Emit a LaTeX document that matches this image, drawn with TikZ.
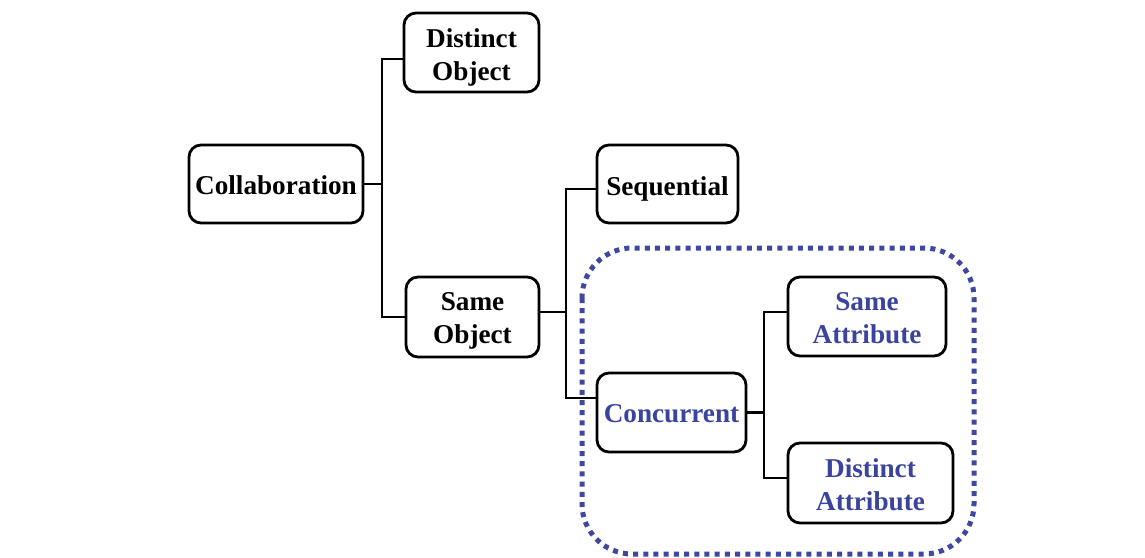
\documentclass[tikz,border=0pt]{standalone}
\usepackage{fontspec}
\setmainfont{Liberation Serif}
\definecolor{dotblue}{HTML}{3D489E}
\definecolor{txtblue}{HTML}{3A449C}
\tikzset{
  box/.style={draw=black, line width=2.8pt, rounded corners=12pt, inner sep=0pt, fill=white},
  txt/.style={inner sep=0pt, align=center, font=\fontsize{27.2}{33}\selectfont\bfseries},
  bluetxt/.style={txt, text=txtblue},
  conn/.style={draw=black, line width=2.8pt},
  groupbox/.style={draw=dotblue, line width=5pt, dash pattern=on 5pt off 5.2pt, rounded corners=50pt}
}
\begin{document}
\begin{tikzpicture}[x=1pt,y=-1pt]
\useasboundingbox (0,0) rectangle (1145,557);
\draw[groupbox] (582,248) rectangle (974,554);
\node[box, minimum width=174pt, minimum height=78pt] (collab) at (276,184) {};
\node[box, minimum width=135pt, minimum height=79pt] (distobj) at (471.5,52.5) {};
\node[box, minimum width=133pt, minimum height=80pt] (sameobj) at (472.5,317) {};
\node[box, minimum width=141pt, minimum height=78pt] (seq) at (667.5,184) {};
\node[box, minimum width=149pt, minimum height=79pt] (conc) at (671.5,412.5) {};
\node[box, minimum width=158pt, minimum height=79pt] (sameattr) at (867,316.5) {};
\node[box, minimum width=165pt, minimum height=80pt] (distattr) at (870.5,483) {};
\node[txt] (tcollab) at ([yshift=-1.5pt]collab.center) {Collaboration};
\node[txt] (tdistobj) at ([yshift=-5pt]distobj.center) {Distinct\\Object};
\node[txt] (tsameobj) at ([yshift=-4pt]sameobj.center) {Same\\Object};
\node[txt] (tseq) at ([yshift=-4.5pt]seq.center) {Sequential};
\node[bluetxt] (tconc) at ([yshift=-1.5pt]conc.center) {Concurrent};
\node[bluetxt] (tsameattr) at ([yshift=-2pt]sameattr.center) {Same\\Attribute};
\node[bluetxt] (tdistattr) at ([yshift=-1.5pt]distattr.center) {Distinct\\Attribute};
\coordinate (b1) at (382,184);
\coordinate (b2) at (566,312);
\coordinate (b3) at (764,412.5);
\draw[conn] (collab.east) -- (b1);
\draw[conn] ([yshift=-6.5pt]distobj.west) -| (b1) |- (sameobj.west);
\draw[conn] ([yshift=5pt]sameobj.east) -- (b2);
\draw[conn] ([yshift=-5pt]seq.west) -| (b2) |- ([yshift=14.5pt]conc.west);
\draw[conn] (conc.east) -- (b3);
\draw[conn] ([yshift=4.5pt]sameattr.west) -| (b3) |- ([yshift=5pt]distattr.west);
\end{tikzpicture}
\end{document}
